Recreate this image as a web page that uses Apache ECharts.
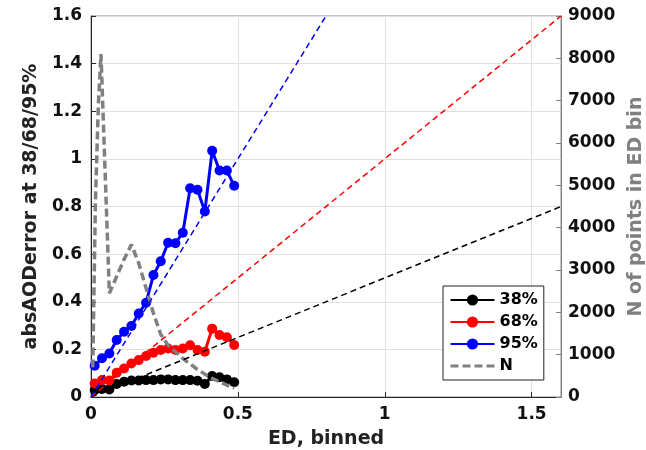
<!DOCTYPE html>
<html>
<head>
<meta charset="utf-8">
<script src="https://cdn.jsdelivr.net/npm/echarts@6/dist/echarts.min.js"></script>
<style>html,body{margin:0;padding:0;background:#fff}#c{width:646px;height:450px}</style>
</head>
<body>
<div id="c"></div>
<script>
// ED bin centres
const edBins = [0.0125,0.0375,0.0625,0.0875,0.1125,0.1375,0.1625,0.1875,0.2125,0.2375,0.2625,0.2875,0.3125,0.3375,0.3625,0.3875,0.4125,0.4375,0.4625,0.4875];
const p38 = [0.029,0.034,0.032,0.055,0.064,0.069,0.069,0.071,0.071,0.074,0.074,0.071,0.071,0.071,0.068,0.055,0.088,0.083,0.074,0.062];
const p68 = [0.057,0.071,0.069,0.102,0.120,0.141,0.155,0.172,0.186,0.197,0.204,0.197,0.204,0.217,0.197,0.190,0.287,0.260,0.251,0.218];
const p95 = [0.131,0.163,0.183,0.239,0.274,0.298,0.351,0.396,0.512,0.570,0.648,0.646,0.690,0.877,0.870,0.779,1.034,0.951,0.951,0.887];
// number of points per bin (right axis)
const nX = [0.006,0.015,0.025,0.034,0.0625,0.0875,0.1125,0.1375,0.1625,0.1875,0.2125,0.2375,0.2625,0.2875,0.3125,0.3375,0.3625,0.3875,0.4125,0.4375,0.4625,0.4875];
const nY = [700,4600,6900,8100,2450,2850,3250,3600,3160,2570,1980,1480,1220,1070,910,780,650,540,440,360,280,210];
// reference lines y = k * x
const refSlopes = [0.5, 1, 2];
const refX = [0, 1.6];
const leftTicks = {min:0, max:1.6, interval:0.2};
const rightTicks = {min:0, max:9000, interval:1000};
const xTicks = {min:0, max:1.6, interval:0.5};
const seriesNames = ['38%','68%','95%','N'];

const FONT = 'DejaVu Sans';
const pair = (xs, ys) => xs.map((x,i)=>[x, ys[i]]);
const refColors = ['#000000','#ff0000','#0000ff'];

const dataSeries = [[p38,'#000000'],[p68,'#ff0000'],[p95,'#0000ff']].map((d,i)=>({
  name: seriesNames[i], type:'line', data: pair(edBins, d[0]),
  yAxisIndex:0, symbol:'circle', symbolSize:10, showSymbol:true,
  lineStyle:{color:d[1], width:3}, itemStyle:{color:d[1]}, color:d[1],
  z: 3, animation:false
}));

const nSeries = {
  name: seriesNames[3], type:'line', data: pair(nX, nY), yAxisIndex:1,
  symbol:'none', showSymbol:false,
  lineStyle:{color:'#808080', width:3.5, type:[8,4]}, itemStyle:{color:'#808080'}, color:'#808080',
  z: 4, animation:false
};

const refSeries = refSlopes.map((k,i)=>({
  name: 'ref'+k, type:'line', yAxisIndex:0, symbol:'none', showSymbol:false,
  data: refX.map(x=>[x, k*x]), clip:true,
  lineStyle:{color:refColors[i], width:1.5, type:[6,4]}, z:5, animation:false, silent:true
}));

const chart = echarts.init(document.getElementById('c'), null, {renderer:'canvas'});
chart.setOption({
  animation:false,
  backgroundColor:'#fff',
  grid:{left:91, right:85, top:16, bottom:53, show:true, borderColor:'#888', borderWidth:1,
        backgroundColor:'transparent', containLabel:false, outerBoundsMode:'none'},
  legend:{
    data: [{name:'38%'},{name:'68%'},{name:'95%'},{name:'N', itemStyle:{opacity:0}, lineStyle:{color:'#808080', width:3, type:[8,4], opacity:1}}],
    orient:'vertical', left:443, top:286,
    padding:[6,6,6,6], itemGap:6, itemWidth:44, itemHeight:14,
    backgroundColor:'#fff', borderColor:'#222', borderWidth:1, borderRadius:0,
    textStyle:{fontFamily:FONT, fontWeight:'bold', fontSize:16, color:'#000'},
    selectedMode:false
  },
  xAxis:{
    type:'value', min:xTicks.min, max:xTicks.max, interval:xTicks.interval,
    name:'ED, binned', nameLocation:'middle', nameGap:33,
    nameTextStyle:{fontFamily:FONT, fontWeight:'bold', fontSize:19, color:'#222'},
    axisLine:{show:true, lineStyle:{color:'#262626', width:1}},
    axisTick:{show:true, inside:true, length:5, lineStyle:{color:'#262626'}},
    axisLabel:{fontFamily:FONT, fontWeight:'bold', fontSize:17, color:'#111', margin:9, showMaxLabel:false},
    splitLine:{show:true, lineStyle:{color:'#e0e0e0', width:1}}
  },
  yAxis:[{
    type:'value', min:leftTicks.min, max:leftTicks.max, interval:leftTicks.interval, position:'left',
    name:'absAODerror at 38/68/95%', nameLocation:'middle', nameGap:48, nameRotate:90,
    nameTextStyle:{fontFamily:FONT, fontWeight:'bold', fontSize:19, color:'#222'},
    axisLine:{show:true, lineStyle:{color:'#262626', width:1}},
    axisTick:{show:true, inside:true, length:5, lineStyle:{color:'#262626'}},
    axisLabel:{fontFamily:FONT, fontWeight:'bold', fontSize:17, color:'#111', margin:9,
      formatter:v=>String(Math.round(v*10)/10)},
    splitLine:{show:true, lineStyle:{color:'#e0e0e0', width:1}}
  },{
    type:'value', min:rightTicks.min, max:rightTicks.max, interval:rightTicks.interval, position:'right',
    name:'N of points in ED bin', nameLocation:'middle', nameGap:64, nameRotate:90,
    nameTextStyle:{fontFamily:FONT, fontWeight:'bold', fontSize:19, color:'#808080'},
    axisLine:{show:true, lineStyle:{color:'#808080', width:1}},
    axisTick:{show:true, inside:true, length:5, lineStyle:{color:'#808080'}},
    axisLabel:{fontFamily:FONT, fontWeight:'bold', fontSize:17, color:'#111', margin:7,
      formatter:v=>String(v)},
    splitLine:{show:false}
  }],
  series:[...dataSeries, nSeries, ...refSeries]
});
</script>
</body>
</html>
